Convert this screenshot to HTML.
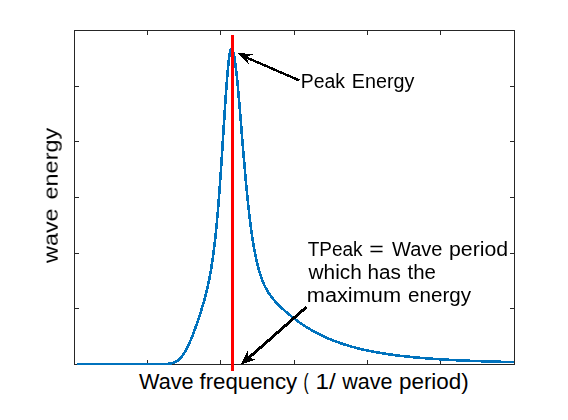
<!DOCTYPE html>
<html><head><meta charset="utf-8"><style>
html,body{margin:0;padding:0;background:#fff;}
body{width:568px;height:420px;overflow:hidden;}
svg{display:block;}
text{font-family:"Liberation Sans",sans-serif;fill:#000;}
</style></head><body>
<svg width="568" height="420" viewBox="0 0 568 420">
<rect x="0" y="0" width="568" height="420" fill="#fff"/>
<g stroke="#262626" stroke-width="1" fill="none" shape-rendering="crispEdges">
<rect x="74.5" y="30.5" width="440" height="334"/>
<path d="M147.5,364V360M220.5,364V360M294.5,364V360M367.5,364V360M440.5,364V360
M147.5,31V35M220.5,31V35M294.5,31V35M367.5,31V35M440.5,31V35
M75,86.5H79M75,141.5H79M75,197.5H79M75,253.5H79M75,308.5H79
M514,86.5H510M514,141.5H510M514,197.5H510M514,253.5H510M514,308.5H510"/>
</g>
<polyline points="77.0,364.06 81.0,364.06 85.0,364.06 89.0,364.06 93.0,364.06 97.0,364.06 101.0,364.06 105.0,364.06 109.0,364.06 113.0,364.06 117.0,364.06 121.0,364.06 125.0,364.06 129.0,364.06 133.0,364.06 137.0,364.06 141.0,364.06 145.0,364.06 149.0,364.06 153.0,364.06 157.0,364.06 160.0,364.05 160.5,364.05 161.0,364.05 161.5,364.05 162.0,364.04 162.5,364.04 163.0,364.03 163.5,364.02 164.0,364.01 164.5,364.00 165.0,363.99 165.5,363.97 166.0,363.95 166.5,363.93 167.0,363.90 167.5,363.86 168.0,363.82 168.5,363.78 169.0,363.72 169.5,363.66 170.0,363.59 170.5,363.51 171.0,363.41 171.5,363.31 172.0,363.19 172.5,363.06 173.0,362.91 173.5,362.74 174.0,362.56 174.5,362.36 175.0,362.13 175.5,361.89 176.0,361.62 176.5,361.33 177.0,361.01 177.5,360.66 178.0,360.29 178.5,359.89 179.0,359.46 179.5,359.00 180.0,358.51 180.5,357.99 181.0,357.44 181.5,356.85 182.0,356.23 182.5,355.57 183.0,354.88 183.5,354.16 184.0,353.40 184.5,352.61 185.0,351.78 185.5,350.92 186.0,350.03 186.5,349.10 187.0,348.14 187.5,347.14 188.0,346.12 188.5,345.06 189.0,343.98 189.5,342.86 190.0,341.72 190.5,340.55 191.0,339.35 191.5,338.13 192.0,336.88 192.5,335.61 193.0,334.32 193.5,333.00 194.0,331.67 194.5,330.31 195.0,328.94 195.5,327.55 196.0,326.14 196.5,324.72 197.0,323.28 197.5,321.82 198.0,320.35 198.5,318.86 199.0,317.35 199.5,315.83 200.0,314.28 200.5,312.72 201.0,311.14 201.5,309.54 202.0,307.91 202.5,306.26 203.0,304.57 203.5,302.85 204.0,301.10 204.5,299.31 205.0,297.47 205.5,295.58 206.0,293.64 206.5,291.64 207.0,289.57 207.5,287.42 208.0,285.20 208.5,282.88 209.0,280.47 209.5,277.96 210.0,275.33 210.5,272.57 211.0,269.69 211.5,266.65 212.0,263.47 212.5,260.11 213.0,256.58 213.5,252.86 214.0,248.95 214.5,244.82 215.0,240.47 215.5,235.90 216.0,231.09 216.5,226.03 217.0,220.71 217.5,215.14 218.0,209.31 218.5,203.22 219.0,196.88 219.5,190.28 220.0,183.44 220.5,176.38 221.0,169.10 221.5,161.64 222.0,154.02 222.5,146.28 223.0,138.45 223.5,130.59 224.0,122.73 224.5,114.94 225.0,107.28 225.5,99.81 226.0,92.60 226.5,85.71 227.0,79.22 227.5,73.19 228.0,67.69 228.5,62.79 229.0,58.55 229.5,55.01 230.0,52.22 230.5,50.22 231.0,49.03 231.5,48.66 232.0,48.96 232.5,49.77 233.0,51.11 233.5,52.94 234.0,55.27 234.5,58.06 235.0,61.29 235.5,64.94 236.0,68.98 236.5,73.38 237.0,78.10 237.5,83.12 238.0,88.40 238.5,93.89 239.0,99.58 239.5,105.42 240.0,111.39 240.5,117.44 241.0,123.55 241.5,129.70 242.0,135.84 242.5,141.97 243.0,148.05 243.5,154.06 244.0,159.99 244.5,165.81 245.0,171.53 245.5,177.11 246.0,182.55 246.5,187.85 247.0,192.99 247.5,197.97 248.0,202.79 248.5,207.44 249.0,211.93 249.5,216.24 250.0,220.39 250.5,224.37 251.0,228.19 251.5,231.85 252.0,235.35 252.5,238.69 253.0,241.89 253.5,244.94 254.0,247.86 254.5,250.64 255.0,253.29 255.5,255.81 256.0,258.22 256.5,260.51 257.0,262.69 257.5,264.76 258.0,266.74 258.5,268.63 259.0,270.42 259.5,272.13 260.0,273.76 260.5,275.31 261.0,276.79 261.5,278.20 262.0,279.55 262.5,280.83 263.0,282.06 263.5,283.24 264.0,284.36 264.5,285.44 265.0,286.48 265.5,287.47 266.0,288.42 266.5,289.34 267.0,290.22 267.5,291.07 268.0,291.89 268.5,292.68 269.0,293.45 269.5,294.19 270.0,294.91 270.5,295.61 271.0,296.29 271.5,296.95 272.0,297.60 272.5,298.22 273.0,298.84 273.5,299.44 274.0,300.03 274.5,300.60 275.0,301.17 275.5,301.72 276.0,302.27 276.5,302.80 277.0,303.33 277.5,303.85 278.0,304.36 278.5,304.87 279.0,305.37 279.5,305.86 280.0,306.35 280.5,306.83 281.0,307.31 281.5,307.78 282.0,308.25 282.5,308.71 283.0,309.17 283.5,309.62 284.0,310.07 284.5,310.52 285.0,310.96 285.5,311.40 286.0,311.83 286.5,312.27 287.0,312.69 287.5,313.12 288.0,313.54 288.5,313.96 289.0,314.37 289.5,314.79 290.0,315.20 290.5,315.60 291.0,316.00 291.5,316.40 292.0,316.80 292.5,317.20 293.0,317.59 293.5,317.97 294.0,318.36 294.5,318.74 295.0,319.12 295.5,319.50 296.0,319.87 296.5,320.24 297.0,320.61 297.5,320.97 298.0,321.33 298.5,321.69 299.0,322.05 299.5,322.40 300.0,322.75 302.0,324.13 304.0,325.46 306.0,326.75 308.0,327.99 310.0,329.20 312.0,330.36 314.0,331.49 316.0,332.58 318.0,333.62 320.0,334.64 322.0,335.62 324.0,336.56 326.0,337.47 328.0,338.35 330.0,339.20 332.0,340.01 334.0,340.80 336.0,341.56 338.0,342.29 340.0,343.00 342.0,343.68 344.0,344.34 346.0,344.98 348.0,345.59 350.0,346.18 352.0,346.75 354.0,347.29 356.0,347.82 358.0,348.33 360.0,348.83 362.0,349.30 364.0,349.76 366.0,350.20 368.0,350.63 370.0,351.04 372.0,351.44 374.0,351.82 376.0,352.19 378.0,352.55 380.0,352.90 382.0,353.23 384.0,353.55 386.0,353.86 388.0,354.16 390.0,354.45 392.0,354.73 394.0,355.00 396.0,355.27 398.0,355.52 400.0,355.76 402.0,356.00 404.0,356.23 406.0,356.45 408.0,356.66 410.0,356.87 412.0,357.07 414.0,357.27 416.0,357.45 418.0,357.64 420.0,357.81 422.0,357.98 424.0,358.15 426.0,358.31 428.0,358.46 430.0,358.61 432.0,358.75 434.0,358.89 436.0,359.03 438.0,359.16 440.0,359.29 442.0,359.41 444.0,359.53 446.0,359.65 448.0,359.76 450.0,359.87 452.0,359.98 454.0,360.08 456.0,360.18 458.0,360.28 460.0,360.37 462.0,360.47 464.0,360.55 466.0,360.64 468.0,360.72 470.0,360.81 472.0,360.88 474.0,360.96 476.0,361.04 478.0,361.11 480.0,361.18 482.0,361.25 484.0,361.31 486.0,361.38 488.0,361.44 490.0,361.50 492.0,361.56 494.0,361.62 496.0,361.68 498.0,361.73 500.0,361.78 502.0,361.83 504.0,361.89 506.0,361.93 508.0,361.98 510.0,362.03 512.0,362.07 514.0,362.12" fill="none" stroke="#0072BD" stroke-width="2.6" stroke-linejoin="round" shape-rendering="crispEdges"/>
<rect x="231" y="35" width="3" height="336" fill="#FF0000"/>
<g shape-rendering="crispEdges">
<path d="M299.5,80.5L247.6,58" stroke="#000" stroke-width="2.4" fill="none"/>
<path d="M237.4,52.7 L253.2,54.3 L247.8,56.4 L247.4,59.6 L249,64.3 Z" fill="#000"/>
<path d="M306.5,307L249.5,357.2" stroke="#000" stroke-width="2.9" fill="none"/>
<path d="M240.6,364.7 L247.6,350.8 L248.3,356.1 L250.8,358.3 L255.6,359.6 Z" fill="#000"/>
</g>
<g style="will-change:transform;filter:opacity(0.999)">
<text x="300.80" y="87.6" font-size="19.4" textLength="44.20" lengthAdjust="spacingAndGlyphs">Peak</text>
<text x="351.88" y="87.6" font-size="19.4" textLength="62.46" lengthAdjust="spacingAndGlyphs">Energy</text>
<text x="307.70" y="255.7" font-size="19.6" textLength="54.85" lengthAdjust="spacingAndGlyphs">TPeak</text>
<text x="369.23" y="255.7" font-size="19.6" textLength="14.55" lengthAdjust="spacingAndGlyphs">=</text>
<text x="392.00" y="255.7" font-size="19.6" textLength="50.47" lengthAdjust="spacingAndGlyphs">Wave</text>
<text x="449.02" y="255.7" font-size="19.6" textLength="59.09" lengthAdjust="spacingAndGlyphs">period</text>
<text x="308.60" y="278.7" font-size="19.6" textLength="53.18" lengthAdjust="spacingAndGlyphs">which</text>
<text x="367.44" y="278.7" font-size="19.6" textLength="33.38" lengthAdjust="spacingAndGlyphs">has</text>
<text x="407.50" y="278.7" font-size="19.6" textLength="28.36" lengthAdjust="spacingAndGlyphs">the</text>
<text x="306.79" y="301.7" font-size="19.6" textLength="94.23" lengthAdjust="spacingAndGlyphs">maximum</text>
<text x="408.00" y="301.7" font-size="19.6" textLength="63.02" lengthAdjust="spacingAndGlyphs">energy</text>
<text transform="translate(58,263) rotate(-90) scale(1,0.88)" font-size="23.4" word-spacing="2.5">wave energy</text>
</g>
<text x="139.00" y="388.8" font-size="22" textLength="54.62" lengthAdjust="spacingAndGlyphs">Wave</text>
<text x="199.50" y="388.8" font-size="22" textLength="97.62" lengthAdjust="spacingAndGlyphs">frequency</text>
<text x="303.50" y="388.8" font-size="22" textLength="5.13" lengthAdjust="spacingAndGlyphs">(</text>
<text x="315.50" y="388.8" font-size="22" textLength="20.20" lengthAdjust="spacingAndGlyphs">1/</text>
<text x="342.20" y="388.8" font-size="22" textLength="50.15" lengthAdjust="spacingAndGlyphs">wave</text>
<text x="398.98" y="388.8" font-size="22" textLength="69.71" lengthAdjust="spacingAndGlyphs">period)</text>
</svg>
</body></html>
